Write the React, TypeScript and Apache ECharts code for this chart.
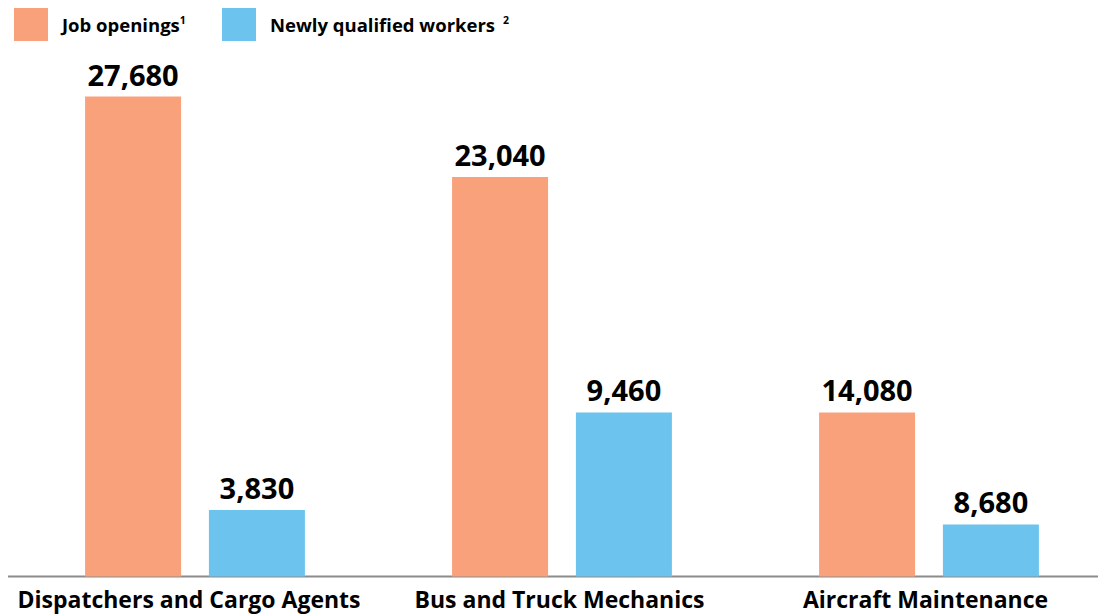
import React, { useEffect, useRef } from "react";
import * as echarts from "echarts";

const categories = ["Dispatchers and Cargo Agents", "Bus and Truck Mechanics", "Aircraft Maintenance"];
// Values printed on the bars
const jobOpenings = [27680, 23040, 14080];
const newlyQualified = [3830, 9460, 8680];
// Bar lengths as drawn in the source graphic (the Aircraft bars are not drawn to the common scale there)
const jobOpeningsDrawn = [27680, 23040, 9460];
const newlyQualifiedDrawn = [3830, 9460, 3000];
const seriesNames = ["Job openings", "Newly qualified workers"];
const legendSup = ["1", "2"];

const ORANGE = "#F8A17A";
const BLUE = "#6CC4EE";
const FONT = "Open Sans";

const fmt = (v: number) => v.toLocaleString("en-US");

export default function App() {
  const ref = useRef<HTMLDivElement>(null);
  useEffect(() => {
    const chart = echarts.init(ref.current!, null, { renderer: "svg" });
    const labelStyle = (vals: number[]) => ({
      show: true,
      position: "top" as const,
      distance: 8,
      fontFamily: FONT,
      fontWeight: "bold" as const,
      fontSize: 29,
      color: "#000",
      formatter: (p: any) => fmt(vals[p.dataIndex]),
    });
    const catStyle = { fontFamily: FONT, fontWeight: "bold", fontSize: 23, color: "#000" };
    chart.setOption({
      animation: false,
      textStyle: { fontFamily: FONT },
      legend: [0, 1].map((i) => ({
        data: [seriesNames[i]],
        left: i === 0 ? 14 : 222,
        top: 8,
        padding: 0,
        itemWidth: 34,
        itemHeight: 33,
        icon: "rect",
        formatter: (n: string) => `{t|${n}}{s|${legendSup[i]}}`,
        textStyle: {
          rich: {
            t: { fontFamily: FONT, fontWeight: "bold", fontSize: 18.5, color: "#000", padding: [0, 0, 0, 9] },
            s: {
              fontFamily: FONT,
              fontWeight: "bold",
              fontSize: 10.5,
              color: "#000",
              padding: [0, 0, 9, i === 0 ? 0 : 8],
            },
          },
        },
      })),
      grid: { left: 11.5, width: 1101, top: 56.3, bottom: 38.5, outerBoundsMode: "none", containLabel: false },
      xAxis: {
        type: "category",
        data: categories,
        axisLine: { show: false },
        axisTick: { show: false },
        axisLabel: {
          margin: 11,
          interval: 0,
          ...catStyle,
          formatter: (v: string, i: number) => `{c${i}|${v}}`,
          rich: {
            c0: { ...catStyle, padding: [0, 12, 0, 0] },
            c1: { ...catStyle, padding: [0, 5, 0, 0] },
            c2: { ...catStyle, padding: [0, 7, 0, 0] },
          },
        },
      },
      yAxis: { type: "value", min: 0, max: 30000, show: false, splitLine: { show: false } },
      graphic: [
        { type: "line", shape: { x1: 8, y1: 576.5, x2: 1098, y2: 576.5 }, style: { stroke: "#8c8c8c", lineWidth: 2 } },
      ],
      series: [
        {
          name: seriesNames[0],
          type: "bar",
          data: jobOpeningsDrawn,
          barWidth: 96,
          barGap: "29%",
          itemStyle: { color: ORANGE },
          label: labelStyle(jobOpenings),
        },
        {
          name: seriesNames[1],
          type: "bar",
          data: newlyQualifiedDrawn,
          barWidth: 96,
          itemStyle: { color: BLUE },
          label: labelStyle(newlyQualified),
        },
      ],
    });
    return () => chart.dispose();
  }, []);
  return <div ref={ref} style={{ width: 1098, height: 615, position: "absolute", left: 0, top: 0 }} />;
}
